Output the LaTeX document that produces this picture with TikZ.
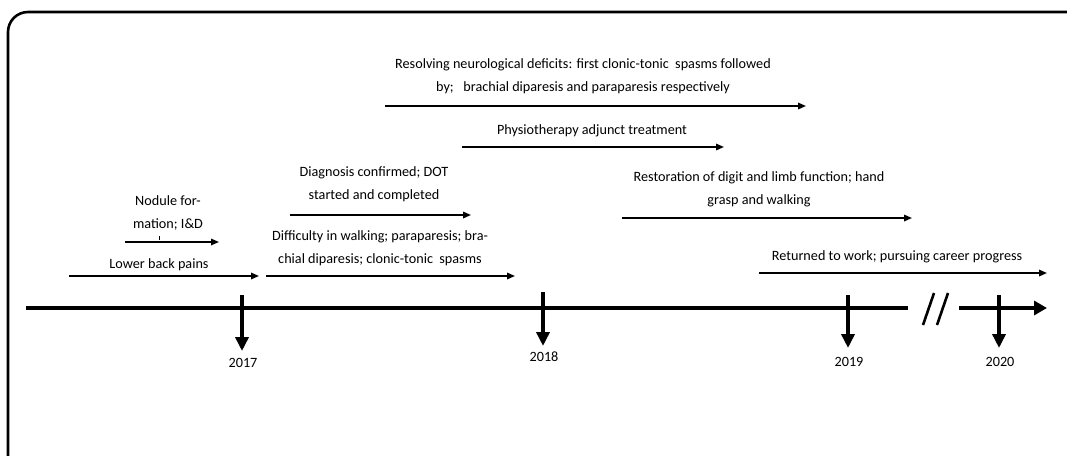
\documentclass[tikz,border=0pt]{standalone}
\usepackage{fontspec}
\setmainfont{Carlito}
\usetikzlibrary{arrows.meta}
\tikzset{
  lbl/.style={inner sep=0pt, align=center, font=\fontsize{14.2}{23}\selectfont},
  yearlbl/.style={inner sep=0pt, font=\fontsize{14.2}{17}\selectfont},
  evarrow/.style={line width=1.6pt, -{Triangle[length=8pt,width=6.5pt]}},
  tickarrow/.style={line width=4pt, -{Triangle[length=14pt,width=13pt]}},
  axis/.style={line width=4.5pt},
  slash/.style={line width=2.6pt},
  frame/.style={line width=2.6pt, rounded corners=20pt}
}
\begin{document}
\begin{tikzpicture}[x=1pt,y=-1pt]
\useasboundingbox (0,0) rectangle (1067,455);
\clip (0,0) rectangle (1067,455);
% frame
\draw[frame] (8,470) -- (8,12) -- (1100,12) -- (1100,470);
% main axis
\coordinate (ax0) at (26,308);
\coordinate (ax1) at (908,308);
\coordinate (ax2) at (959,308);
\coordinate (ax3) at (1047,308);
\draw[axis] (ax0) -- (ax1);
\draw[axis, -{Triangle[length=13pt,width=14pt]}] (ax2) -- (ax3);
% break marks
\coordinate (s1a) at (923,325); \coordinate (s1b) at (934,293);
\coordinate (s2a) at (937,325); \coordinate (s2b) at (948,293);
\draw[slash] (s1a) -- (s1b);
\draw[slash] (s2a) -- (s2b);
% year ticks
\coordinate (t17a) at (242,295); \coordinate (t17b) at (242,351);
\coordinate (t18a) at (543,292); \coordinate (t18b) at (543,346);
\coordinate (t19a) at (848,295); \coordinate (t19b) at (848,348);
\coordinate (t20a) at (999,295); \coordinate (t20b) at (999,348);
\draw[tickarrow] (t17a) -- (t17b);
\draw[tickarrow] (t18a) -- (t18b);
\draw[tickarrow] (t19a) -- (t19b);
\draw[tickarrow] (t20a) -- (t20b);
\node[yearlbl] (y2017) at (243,363) {2017};
\node[yearlbl] (y2018) at (544,357) {2018};
\node[yearlbl] (y2019) at (849,362) {2019};
\node[yearlbl] (y2020) at (1000,362) {2020};
% event arrows
\coordinate (resA) at (385,106); \coordinate (resB) at (806,106);
\coordinate (phyA) at (462,147); \coordinate (phyB) at (724,147);
\coordinate (diaA) at (290,215); \coordinate (diaB) at (471,215);
\coordinate (rstA) at (622,218); \coordinate (rstB) at (912,218);
\coordinate (nodA) at (125,242); \coordinate (nodB) at (219,242);
\coordinate (lbpA) at (69,276); \coordinate (lbpB) at (259,276);
\coordinate (difA) at (266,276); \coordinate (difB) at (515,276);
\coordinate (retA) at (759,273); \coordinate (retB) at (1047,273);
\draw[evarrow] (resA) -- (resB);
\draw[evarrow] (phyA) -- (phyB);
\draw[evarrow] (diaA) -- (diaB);
\draw[evarrow] (rstA) -- (rstB);
\draw[evarrow] (nodA) -- (nodB);
\draw[evarrow] (lbpA) -- (lbpB);
\draw[evarrow] (difA) -- (difB);
\draw[evarrow] (retA) -- (retB);
% small mark under I&D
\coordinate (mkA) at (159,236); \coordinate (mkB) at (159,239.5);
\draw[line width=0.9pt] (mkA) -- (mkB);
% labels
\node[lbl] (res) at (583,76) {Resolving neurological deficits: first clonic-tonic\ \ spasms followed\\by;\ \ \ brachial diparesis and paraparesis respectively};
\node[lbl] (phy) at (592,131) {Physiotherapy adjunct treatment};
\node[lbl] (dia) at (374,184) {Diagnosis confirmed; DOT\\started and completed};
\node[lbl] (rst) at (759,189) {Restoration of digit and limb function; hand\\grasp and walking};
\node[lbl] (nod) at (168,213) {Nodule for-\\mation; I\&D};
\node[lbl] (dif) at (380,248) {Difficulty in walking; paraparesis; bra-\\chial diparesis; clonic-tonic\ \ spasms};
\node[lbl] (lbp) at (159,265) {Lower back pains};
\node[lbl] (ret) at (897,257) {Returned to work; pursuing career progress};
\end{tikzpicture}
\end{document}
